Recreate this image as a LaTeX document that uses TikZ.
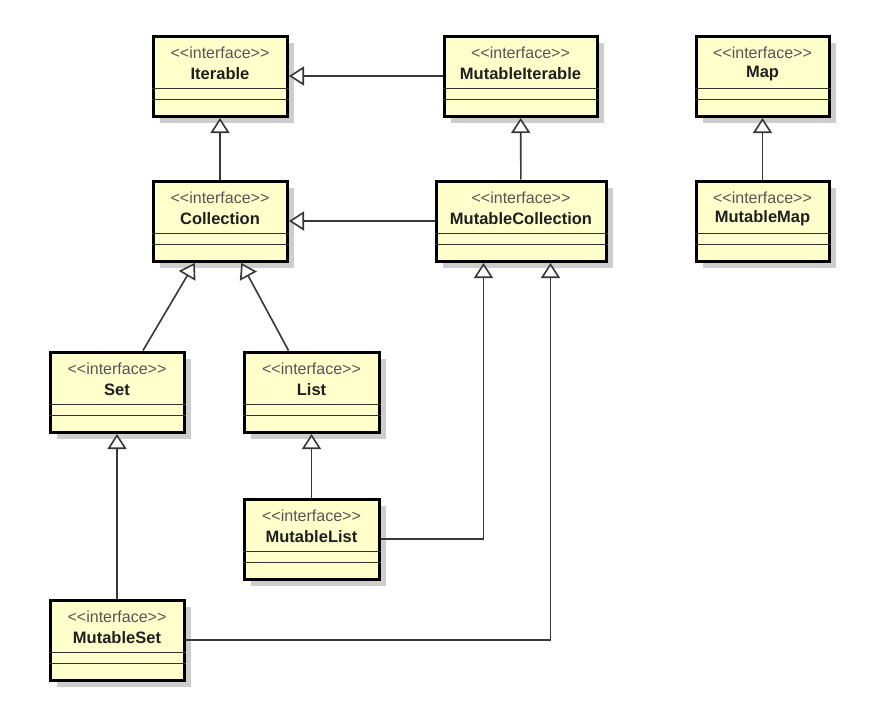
\documentclass[tikz,border=0pt]{standalone}
\usepackage{fontspec}
\setmainfont{Liberation Sans}
\usetikzlibrary{arrows.meta,calc,shadows}
\definecolor{boxfill}{RGB}{255,255,204}
\definecolor{shadowgray}{RGB}{205,205,205}
\definecolor{linegray}{RGB}{55,55,55}
\definecolor{stereogray}{RGB}{85,85,85}
\tikzset{
  umlbox/.style={draw=black, line width=3pt, fill=boxfill, minimum height=80pt, inner sep=0pt,
    drop shadow={shadow xshift=7pt, shadow yshift=-7pt, fill=shadowgray, opacity=1}},
  stereo/.style={font=\fontsize{16}{17}\selectfont, text=stereogray, inner sep=0pt},
  cname/.style={font=\fontsize{16.5}{17}\selectfont\bfseries, text=black!88, inner sep=0pt},
  sepline/.style={draw=black!80, line width=1.4pt},
  gen/.style={draw=linegray, line width=1.6pt, -{Triangle[length=15pt,width=19pt,fill=white]}, shorten >=0.5pt},
}
\newcommand\ifbox[5]{% name, left x, top y, width, label
  \node[umlbox, minimum width=#4pt, anchor=north west] (#1) at (#2,#3) {};
  \node[stereo] (#1s) at ($(#1.north)+(0,18.5)$) {{<}{<}interface{>}{>}};
  \node[cname] (#1n) at ($(#1.north)+(0,39)$) {#5};
  \draw[sepline] ($(#1.north west)+(0,54)$) -- ($(#1.north east)+(0,54)$);
  \draw[sepline] ($(#1.north west)+(0,65)$) -- ($(#1.north east)+(0,65)$);
}
\begin{document}
\begin{tikzpicture}[x=1pt,y=-1pt]
\useasboundingbox[fill=white] (0,0) rectangle (875,707);
\ifbox{it}{151.5}{34.5}{134}{Iterable}
\ifbox{mi}{442.5}{34.5}{153}{MutableIterable}
\ifbox{map}{694.5}{34.5}{133}{Map}
\ifbox{col}{151.5}{179.5}{134}{Collection}
\ifbox{mc}{434.5}{179.5}{170}{MutableCollection}
\ifbox{mm}{694.5}{179.5}{133}{MutableMap}
\ifbox{set}{48.5}{350.5}{134}{Set}
\ifbox{list}{242.5}{350.5}{135}{List}
\ifbox{ml}{242.5}{497.5}{135}{MutableList}
\ifbox{ms}{48.5}{598.5}{134}{MutableSet}
\draw[gen] (mi) -- (it);
\draw[gen] (col) -- (it);
\draw[gen] (mc) -- (mi);
\draw[gen] (mc) -- (col);
\draw[gen] (mm) -- (map);
\draw[gen] ($(set.north)+(26,0)$) -- ($(col.south)+(-25,0)$);
\draw[gen] ($(list.north)+(-23,0)$) -- ($(col.south)+(21,0)$);
\draw[gen] (ml) -- (list);
\draw[gen] (ms) -- (set);
\draw[gen] (ml.east) -| ($(mc.south)+(-37.5,0)$);
\draw[gen] (ms.east) -| ($(mc.south)+(29.5,0)$);
\end{tikzpicture}
\end{document}
